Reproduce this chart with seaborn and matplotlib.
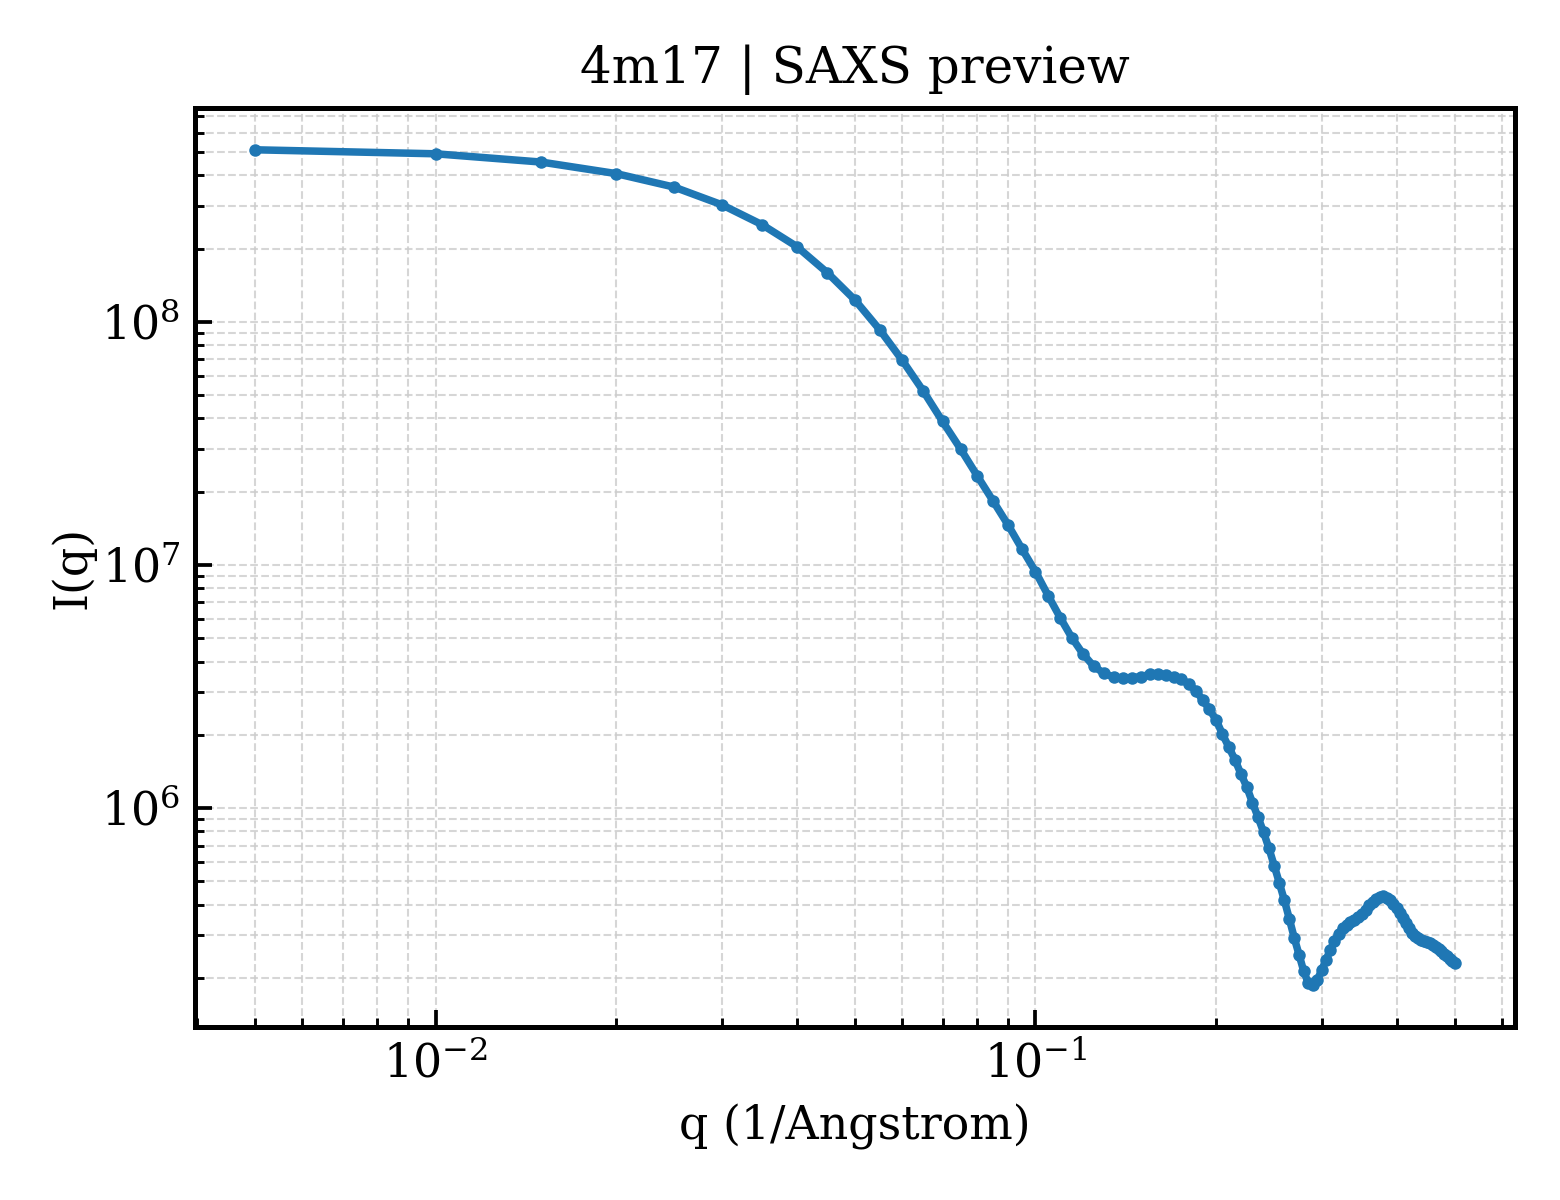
import seaborn as sns
import matplotlib.pyplot as plt
import pandas as pd
import numpy as np

q_values = [
    0.005, 0.010, 0.015, 0.020, 0.025, 0.030, 0.035, 0.040, 0.045, 0.050,
    0.055, 0.060, 0.065, 0.070, 0.075, 0.080, 0.085, 0.090, 0.095, 0.100,
    0.105, 0.110, 0.115, 0.120, 0.125, 0.130, 0.135, 0.140, 0.145, 0.150,
    0.155, 0.160, 0.165, 0.170, 0.175, 0.180, 0.185, 0.190, 0.195, 0.200,
    0.205, 0.210, 0.215, 0.220, 0.225, 0.230, 0.235, 0.240, 0.245, 0.250,
    0.255, 0.260, 0.265, 0.270, 0.275, 0.280, 0.285, 0.290, 0.295, 0.300,
    0.305, 0.310, 0.315, 0.320, 0.325, 0.330, 0.335, 0.340, 0.345, 0.350,
    0.355, 0.360, 0.365, 0.370, 0.375, 0.380, 0.385, 0.390, 0.395, 0.400,
    0.405, 0.410, 0.415, 0.420, 0.425, 0.430, 0.435, 0.440, 0.445, 0.450,
    0.455, 0.460, 0.465, 0.470, 0.475, 0.480, 0.485, 0.490, 0.495, 0.500,
]
intensity = [
    5.10e8, 4.91e8, 4.54e8, 4.07e8, 3.58e8, 3.03e8, 2.51e8, 2.04e8, 1.59e8, 1.23e8,
    9.27e7, 6.93e7, 5.19e7, 3.89e7, 3.00e7, 2.32e7, 1.83e7, 1.46e7, 1.16e7, 9.38e6,
    7.47e6, 6.05e6, 5.01e6, 4.30e6, 3.83e6, 3.58e6, 3.45e6, 3.42e6, 3.43e6, 3.47e6,
    3.54e6, 3.54e6, 3.53e6, 3.47e6, 3.40e6, 3.22e6, 3.04e6, 2.78e6, 2.54e6, 2.30e6,
    2.01e6, 1.78e6, 1.58e6, 1.38e6, 1.22e6, 1.05e6, 9.15e5, 7.94e5, 6.82e5, 5.79e5,
    4.91e5, 4.16e5, 3.49e5, 2.92e5, 2.49e5, 2.13e5, 1.90e5, 1.86e5, 1.96e5, 2.15e5,
    2.37e5, 2.60e5, 2.83e5, 3.04e5, 3.20e5, 3.30e5, 3.38e5, 3.46e5, 3.54e5, 3.65e5,
    3.80e5, 3.97e5, 4.10e5, 4.20e5, 4.28e5, 4.32e5, 4.26e5, 4.16e5, 4.03e5, 3.87e5,
    3.70e5, 3.51e5, 3.35e5, 3.19e5, 3.06e5, 2.97e5, 2.92e5, 2.87e5, 2.84e5, 2.81e5,
    2.77e5, 2.72e5, 2.67e5, 2.63e5, 2.57e5, 2.51e5, 2.45e5, 2.40e5, 2.35e5, 2.31e5,
]

data = pd.DataFrame({"q": q_values, "I": intensity})

# --- Styling ---
sns.set_theme(style="white")
plt.rcParams["font.family"] = ["DejaVu Serif"]
plt.rcParams["mathtext.fontset"] = "dejavuserif"
plt.rcParams["text.color"] = "black"
plt.rcParams["axes.labelcolor"] = "black"
plt.rcParams["xtick.color"] = "black"
plt.rcParams["ytick.color"] = "black"

# --- Plot ---
fig, ax = plt.subplots(figsize=(5.2, 4))   # 5.2 x 4 in at 300 dpi = 1560 x 1200 px
sns.lineplot(data=data, x="q", y="I", ax=ax, color="#1f77b4",
             linewidth=1.8, marker="o", markersize=3.0, markeredgewidth=0)

ax.set_xscale("log")
ax.set_yscale("log")

ax.grid(True, which="both", linestyle="--", linewidth=0.5, color="#cccccc", alpha=0.8)
for side in ["left", "right", "top", "bottom"]:
    ax.spines[side].set_visible(True)
    ax.spines[side].set_color("black")
    ax.spines[side].set_linewidth(1.2)

ax.tick_params(which="both", direction="in", left=True, bottom=True)
ax.tick_params(which="major", length=4, width=0.9, labelsize=11)
ax.tick_params(which="minor", length=2.2, width=0.7)

ax.set_title("4m17 | SAXS preview", fontsize=12, color="black")
ax.set_xlabel("q (1/Angstrom)", fontsize=11)
ax.set_ylabel("I(q)", fontsize=11, labelpad=1.5)

fig.subplots_adjust(left=0.125, right=0.971, top=0.91, bottom=0.144)
fig.savefig("out.png", dpi=300)
plt.close(fig)
